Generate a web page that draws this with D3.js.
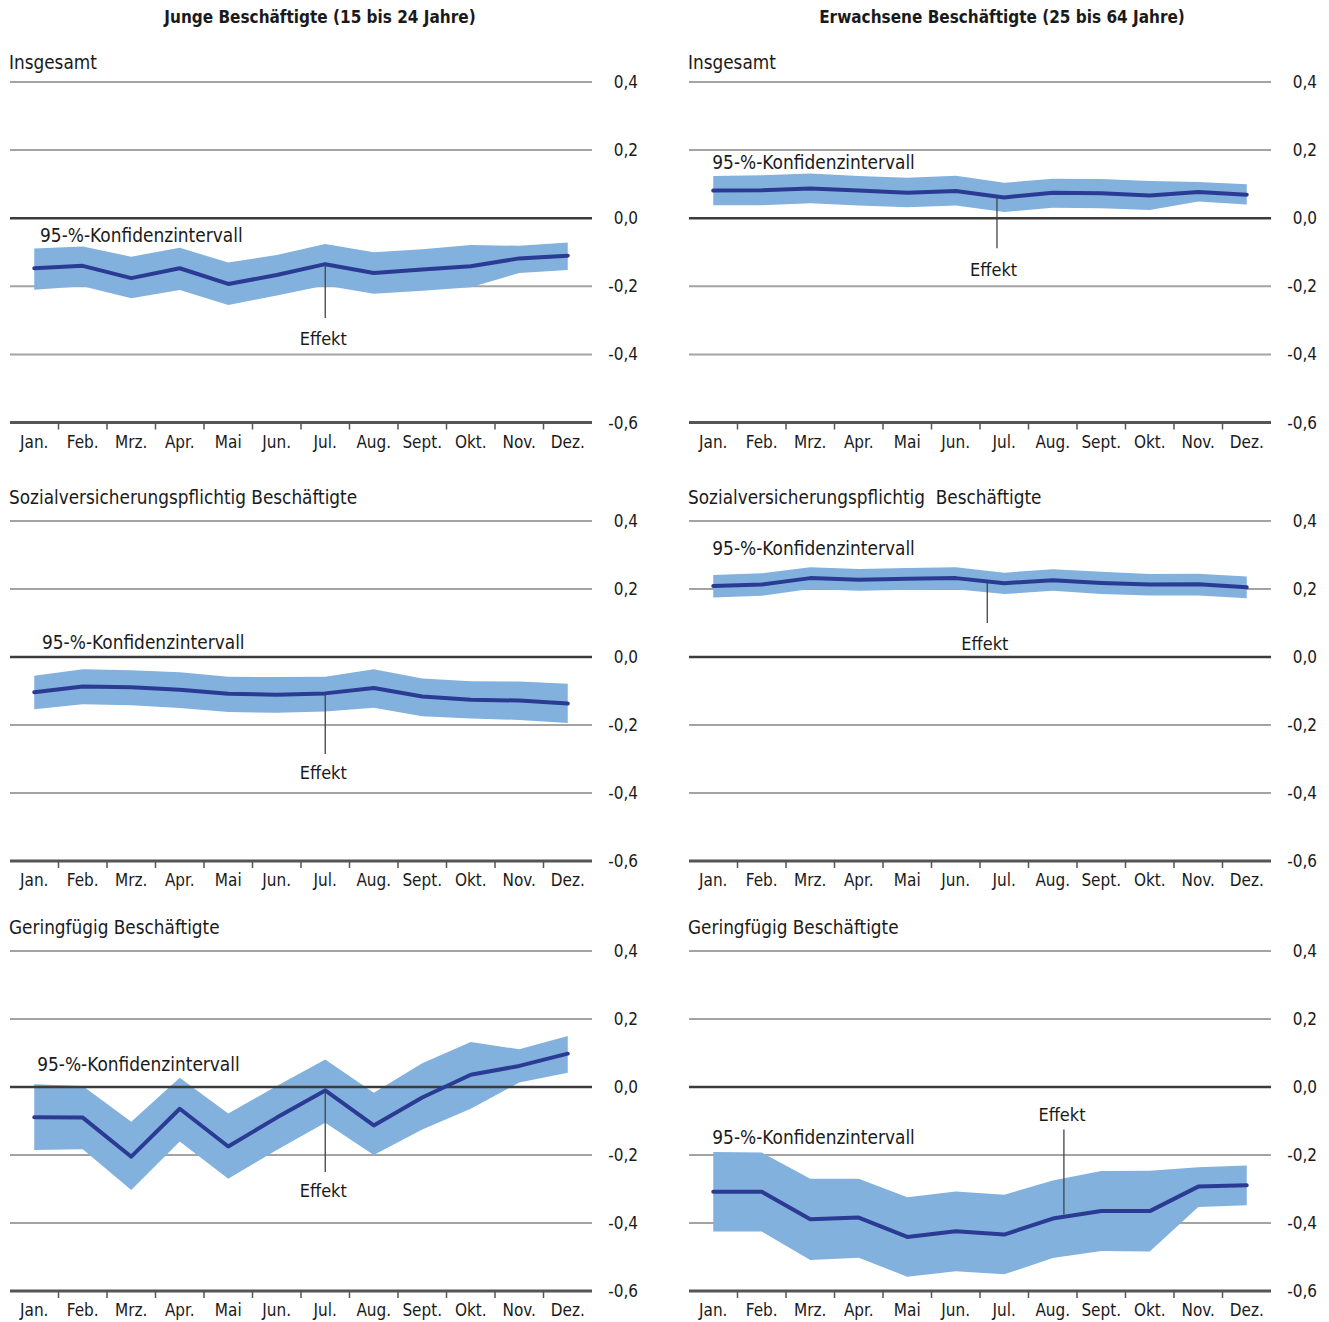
<!DOCTYPE html>
<html lang="de">
  <head>
    <meta charset="utf-8">
    <title>Effekte nach Monat</title>
    <script src="https://d3js.org/d3.v7.min.js"></script>
    <style>
      body {
        margin: 0;
        background: #fff;
      }
      svg text {
        font-family: "DejaVu Sans", sans-serif;
        font-stretch: condensed;
        fill: #1a1a1a;
      }
      .grid line { stroke: #a3a3a3; stroke-width: 2px; }
      .zero { stroke: #3c3c3c; stroke-width: 2.5px; }
      .baseline { stroke: #555; stroke-width: 3px; }
      .tick-mark { stroke: #555; stroke-width: 1.5px; }
      .band { fill: #82b1de; }
      .effekt { fill: none; stroke: #2b3b93; stroke-width: 4px; stroke-linejoin: round; stroke-linecap: round; }
      .pointer { stroke: #444; stroke-width: 1.3px; }
    </style>
  </head>
  <body>
    <svg id="chart" width="1329" height="1322"></svg>

    <script>

    // data ******************************************

    const months = ["Jan.", "Feb.", "Mrz.", "Apr.", "Mai", "Jun.", "Jul.", "Aug.", "Sept.", "Okt.", "Nov.", "Dez."]
    const yTicks = [0.4, 0.2, 0.0, -0.2, -0.4, -0.6]

    // Junge Beschäftigte, Insgesamt
    const jungeGesamt      = [-0.147, -0.140, -0.176, -0.147, -0.193, -0.167, -0.135, -0.161, -0.151, -0.141, -0.118, -0.110]
    const jungeGesamtOben  = [-0.089, -0.083, -0.113, -0.087, -0.130, -0.108, -0.076, -0.100, -0.091, -0.079, -0.081, -0.071]
    const jungeGesamtUnten = [-0.210, -0.200, -0.235, -0.211, -0.255, -0.227, -0.198, -0.222, -0.213, -0.203, -0.161, -0.152]

    // Erwachsene Beschäftigte, Insgesamt
    const erwGesamt      = [0.081, 0.082, 0.087, 0.081, 0.075, 0.080, 0.061, 0.075, 0.073, 0.067, 0.077, 0.069]
    const erwGesamtOben  = [0.124, 0.126, 0.131, 0.124, 0.119, 0.125, 0.104, 0.116, 0.115, 0.109, 0.106, 0.100]
    const erwGesamtUnten = [0.038, 0.038, 0.044, 0.037, 0.032, 0.037, 0.018, 0.031, 0.029, 0.024, 0.049, 0.040]

    // Junge, sozialversicherungspflichtig
    const jungeSv      = [-0.104, -0.087, -0.089, -0.096, -0.108, -0.111, -0.107, -0.091, -0.116, -0.126, -0.128, -0.137]
    const jungeSvOben  = [-0.055, -0.036, -0.039, -0.045, -0.058, -0.059, -0.058, -0.036, -0.063, -0.071, -0.072, -0.079]
    const jungeSvUnten = [-0.154, -0.139, -0.142, -0.150, -0.162, -0.164, -0.160, -0.149, -0.174, -0.181, -0.185, -0.194]

    // Erwachsene, sozialversicherungspflichtig
    const erwSv      = [0.209, 0.213, 0.232, 0.227, 0.230, 0.232, 0.217, 0.226, 0.218, 0.213, 0.214, 0.205]
    const erwSvOben  = [0.241, 0.246, 0.264, 0.259, 0.262, 0.264, 0.248, 0.258, 0.251, 0.244, 0.245, 0.237]
    const erwSvUnten = [0.175, 0.180, 0.200, 0.195, 0.198, 0.199, 0.185, 0.195, 0.185, 0.181, 0.181, 0.173]

    // Junge, geringfügig
    const jungeGf      = [-0.089, -0.090, -0.205, -0.064, -0.175, -0.090, -0.010, -0.113, -0.031, 0.036, 0.062, 0.098]
    const jungeGfOben  = [0.008, 0.003, -0.102, 0.027, -0.078, 0.003, 0.081, -0.017, 0.070, 0.132, 0.111, 0.150]
    const jungeGfUnten = [-0.185, -0.183, -0.303, -0.160, -0.270, -0.185, -0.105, -0.200, -0.125, -0.064, 0.013, 0.042]

    // Erwachsene, geringfügig
    const erwGf      = [-0.308, -0.308, -0.389, -0.384, -0.441, -0.424, -0.434, -0.387, -0.365, -0.365, -0.293, -0.289]
    const erwGfOben  = [-0.191, -0.193, -0.270, -0.270, -0.324, -0.307, -0.317, -0.275, -0.247, -0.246, -0.236, -0.231]
    const erwGfUnten = [-0.425, -0.425, -0.509, -0.502, -0.558, -0.542, -0.551, -0.503, -0.482, -0.484, -0.353, -0.348]

    // layout ****************************************

    const svg = d3.select("#chart")

    const de = d3.formatLocale({decimal: ",", thousands: ".", grouping: [3], currency: ["", " €"], minus: "-"})
    const fmt = de.format(".1f")

    const cols = [
      {x0: 10, x1: 592, labelX: 638, title: "Junge Beschäftigte (15 bis 24 Jahre)", titleX: 320},
      {x0: 689, x1: 1271, labelX: 1317, title: "Erwachsene Beschäftigte (25 bis 64 Jahre)", titleX: 1002}
    ]
    const rows = [
      {top: 82, bottom: 422.5, nameY: 62},
      {top: 521, bottom: 861, nameY: 497},
      {top: 951, bottom: 1291, nameY: 927}
    ]

    // annotation anchors are given in month-index / value units
    const panels = [
      {col: 0, row: 0, name: "Insgesamt", mid: jungeGesamt, hi: jungeGesamtOben, lo: jungeGesamtUnten,
       ki: [0.12, -0.049], eff: {x: 6, from: -0.135, to: -0.293, tx: 5.96, ty: -0.354}},
      {col: 1, row: 0, name: "Insgesamt", mid: erwGesamt, hi: erwGesamtOben, lo: erwGesamtUnten,
       ki: [-0.02, 0.165], eff: {x: 5.85, from: 0.063, to: -0.088, tx: 5.78, ty: -0.15}},
      {col: 0, row: 1, name: "Sozialversicherungspflichtig Beschäftigte", mid: jungeSv, hi: jungeSvOben, lo: jungeSvUnten,
       ki: [0.16, 0.044], eff: {x: 6, from: -0.107, to: -0.285, tx: 5.96, ty: -0.34}},
      {col: 1, row: 1, name: "Sozialversicherungspflichtig  Beschäftigte", mid: erwSv, hi: erwSvOben, lo: erwSvUnten,
       ki: [-0.02, 0.32], eff: {x: 5.65, from: 0.226, to: 0.1, tx: 5.6, ty: 0.041}},
      {col: 0, row: 2, name: "Geringfügig Beschäftigte", mid: jungeGf, hi: jungeGfOben, lo: jungeGfUnten,
       ki: [0.06, 0.068], eff: {x: 6, from: -0.01, to: -0.25, tx: 5.96, ty: -0.303}},
      {col: 1, row: 2, name: "Geringfügig Beschäftigte", mid: erwGf, hi: erwGfOben, lo: erwGfUnten,
       ki: [-0.02, -0.147], eff: {x: 7.23, from: -0.125, to: -0.375, tx: 7.19, ty: -0.082}}
    ]

    // column titles
    svg.selectAll("text.col-title")
      .data(cols)
      .join("text")
        .attr("class", "col-title")
        .attr("x", d => d.titleX)
        .attr("y", 17)
        .attr("text-anchor", "middle")
        .attr("dominant-baseline", "central")
        .style("font-weight", "bold")
        .style("font-size", "17px")
        .text(d => d.title)


    function drawPanel(p) {
      const c = cols[p.col], r = rows[p.row]

      const x = d3.scaleLinear().domain([-0.5, 11.5]).range([c.x0, c.x1])
      const y = d3.scaleLinear().domain([-0.6, 0.4]).range([r.bottom, r.top])

      const g = svg.append("g")

      // panel name
      g.append("text")
        .attr("x", c.x0 - 1)
        .attr("y", r.nameY)
        .attr("dominant-baseline", "central")
        .attr("xml:space", "preserve")
        .style("white-space", "pre")
        .style("font-size", "18.8px")
        .text(p.name)

      // grid
      g.append("g").attr("class", "grid")
        .selectAll("line")
        .data(yTicks.filter(v => v > -0.6 && v !== 0))
        .join("line")
          .attr("x1", c.x0).attr("x2", c.x1)
          .attr("y1", d => y(d)).attr("y2", d => y(d))

      // value labels on the right
      g.selectAll("text.ylab")
        .data(yTicks)
        .join("text")
          .attr("class", "ylab")
          .attr("x", c.labelX)
          .attr("y", d => y(d))
          .attr("text-anchor", "end")
          .attr("dominant-baseline", "central")
          .style("font-size", "17px")
          .text(d => fmt(d))

      // confidence band
      const idx = d3.range(months.length)
      const area = d3.area()
        .x(i => x(i))
        .y0(i => y(p.lo[i]))
        .y1(i => y(p.hi[i]))
      g.append("path")
        .attr("class", "band")
        .attr("d", area(idx))

      // zero line drawn over the band
      g.append("line")
        .attr("class", "zero")
        .attr("x1", c.x0).attr("x2", c.x1)
        .attr("y1", y(0)).attr("y2", y(0))

      // pointer line for "Effekt"
      g.append("line")
        .attr("class", "pointer")
        .attr("x1", x(p.eff.x)).attr("x2", x(p.eff.x))
        .attr("y1", y(p.eff.from)).attr("y2", y(p.eff.to))

      // effect line
      const line = d3.line()
        .x(i => x(i))
        .y(i => y(p.mid[i]))
      g.append("path")
        .attr("class", "effekt")
        .attr("d", line(idx))

      // bottom axis
      g.append("line")
        .attr("class", "baseline")
        .attr("x1", c.x0).attr("x2", c.x1)
        .attr("y1", y(-0.6)).attr("y2", y(-0.6))

      g.selectAll("line.tick-mark")
        .data(d3.range(months.length - 1))
        .join("line")
          .attr("class", "tick-mark")
          .attr("x1", i => x(i + 0.5)).attr("x2", i => x(i + 0.5))
          .attr("y1", y(-0.6)).attr("y2", y(-0.6) + 7)

      g.selectAll("text.month")
        .data(months)
        .join("text")
          .attr("class", "month")
          .attr("x", (d, i) => x(i))
          .attr("y", y(-0.6) + 19)
          .attr("text-anchor", "middle")
          .attr("dominant-baseline", "central")
          .style("font-size", "17px")
          .text(d => d)

      // labels
      g.append("text")
        .attr("x", x(p.ki[0]))
        .attr("y", y(p.ki[1]))
        .attr("dominant-baseline", "central")
        .style("font-size", "18.9px")
        .text("95-%-Konfidenzintervall")

      g.append("text")
        .attr("x", x(p.eff.tx))
        .attr("y", y(p.eff.ty))
        .attr("text-anchor", "middle")
        .attr("dominant-baseline", "central")
        .style("font-size", "18px")
        .text("Effekt")
    }

    panels.forEach(drawPanel)

    </script>
  </body>
</html>
